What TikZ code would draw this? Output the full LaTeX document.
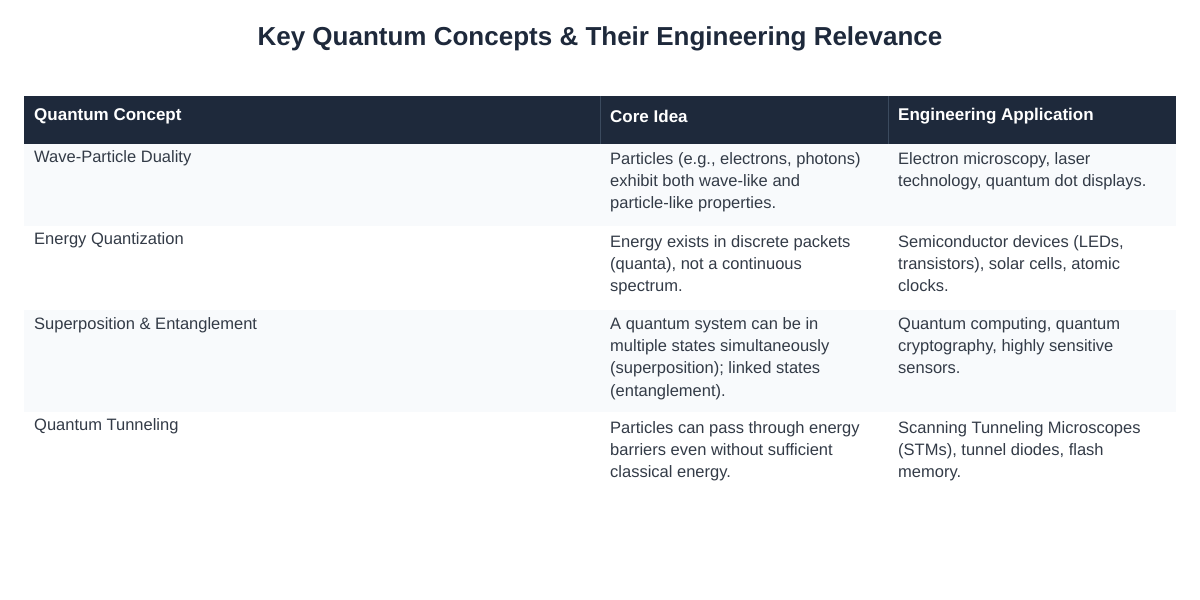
\documentclass[tikz,border=0pt]{standalone}
\usepackage{fontspec}
\setmainfont{Liberation Sans}
\definecolor{hdr}{HTML}{1E293B}
\definecolor{hdrline}{HTML}{3B4A5E}
\definecolor{alt}{HTML}{F8FAFC}
\definecolor{txt}{HTML}{333B47}
\begin{document}
\begin{tikzpicture}[x=1pt,y=-1pt,
  cell/.style={anchor=north west,inner sep=0pt,align=left,text=txt,font=\fontsize{16.5}{22.3}\selectfont},
  head/.style={anchor=west,inner sep=0pt,text=white,font=\bfseries\fontsize{17}{22}\selectfont}]
\useasboundingbox (0,0) rectangle (1200,600);
\fill[white] (0,0) rectangle (1200,600);
\node[font=\bfseries\fontsize{26}{30}\selectfont,text=hdr] (title) at (600,39) {Key Quantum Concepts \& Their Engineering Relevance};
\fill[hdr] (24,96) rectangle (1176,144);
\draw[hdrline] (600,96) -- (600,144) (888,96) -- (888,144);
\fill[alt] (24,144) rectangle (1176,226);
\fill[alt] (24,310) rectangle (1176,412);
\node[head] (h1) at (34,116) {Quantum Concept};
\node[head] (h2) at (610,116) {Core Idea};
\node[head] (h3) at (898,116) {Engineering Application};
% row 1
\node[cell] (a1) at (34,150) {Wave-Particle Duality};
\node[cell] (b1) at (610,152) {Particles (e.g., electrons, photons)\\exhibit both wave-like and\\particle-like properties.};
\node[cell] (c1) at (898,152) {Electron microscopy, laser\\technology, quantum dot displays.};
% row 2
\node[cell] (a2) at (34,232) {Energy Quantization};
\node[cell] (b2) at (610,235) {Energy exists in discrete packets\\(quanta), not a continuous\\spectrum.};
\node[cell] (c2) at (898,235) {Semiconductor devices (LEDs,\\transistors), solar cells, atomic\\clocks.};
% row 3
\node[cell] (a3) at (34,317) {Superposition \& Entanglement};
\node[cell] (b3) at (610,317) {A quantum system can be in\\multiple states simultaneously\\(superposition); linked states\\(entanglement).};
\node[cell] (c3) at (898,317) {Quantum computing, quantum\\cryptography, highly sensitive\\sensors.};
% row 4
\node[cell] (a4) at (34,418) {Quantum Tunneling};
\node[cell] (b4) at (610,421) {Particles can pass through energy\\barriers even without sufficient\\classical energy.};
\node[cell] (c4) at (898,421) {Scanning Tunneling Microscopes\\(STMs), tunnel diodes, flash\\memory.};
\end{tikzpicture}
\end{document}
